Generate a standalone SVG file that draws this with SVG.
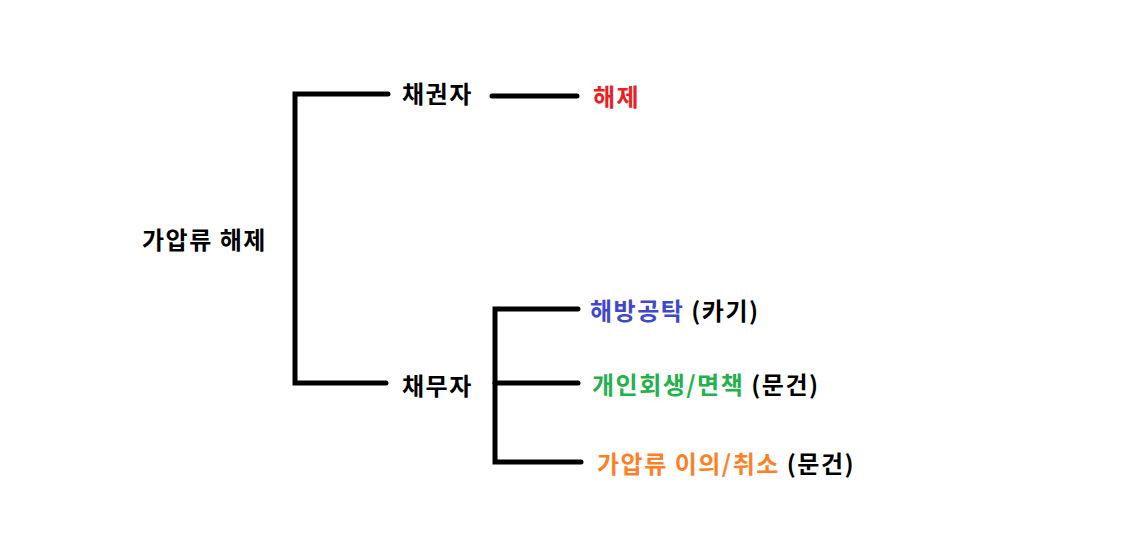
<svg xmlns="http://www.w3.org/2000/svg" width="1126" height="540" viewBox="0 0 1126 540">
<style>
.t{font-family:"Noto Sans CJK KR","Noto Sans",sans-serif;font-weight:bold;font-size:24px;letter-spacing:1.5px;fill:#000}
.ln{stroke:#000;stroke-width:5;stroke-linecap:round;fill:none}
</style>
<rect width="1126" height="540" fill="#fff"/>
<g id="connectors">
<path class="ln" d="M388 94 H295 V383 H386"/>
<path class="ln" d="M492 96 H577"/>
<path class="ln" d="M578 309 H495 V462 H581"/>
<path class="ln" d="M495 383 H578"/>
</g>
<g id="root"><text class="t" x="142" y="249">가압류 해제</text></g>
<g id="creditor"><text class="t" x="402" y="103">채권자</text></g>
<g id="debtor"><text class="t" x="402" y="395">채무자</text></g>
<g id="release"><text class="t" x="593" y="106" style="fill:#ed1c24">해제</text></g>
<g id="deposit"><text class="t" x="590" y="320"><tspan fill="#3f48cc">해방공탁</tspan> (카기)</text></g>
<g id="rehab"><text class="t" x="592" y="394"><tspan fill="#22b14c">개인회생/면책</tspan> (문건)</text></g>
<g id="objection"><text class="t" x="597" y="473"><tspan fill="#ff7f27">가압류 이의/취소</tspan> (문건)</text></g>
</svg>
